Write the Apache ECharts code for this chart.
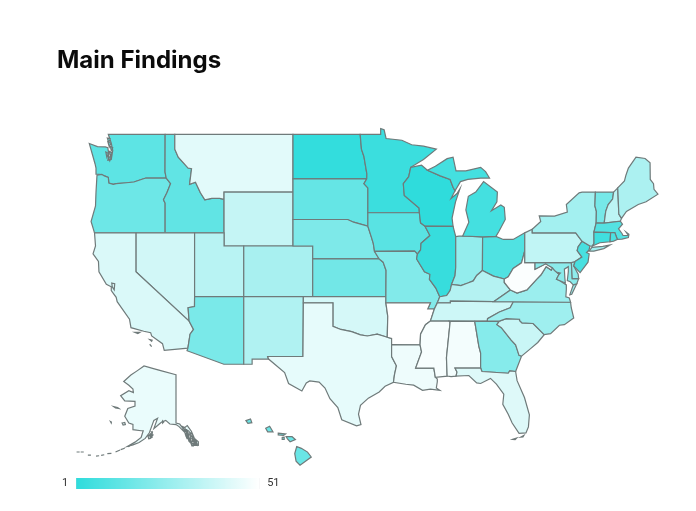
<!DOCTYPE html>
<html>
<head>
<meta charset="utf-8">
<style>
  html, body { margin: 0; background: #fff; }
  #chart { width: 696px; height: 511px; }
</style>
<script src="https://cdn.jsdelivr.net/npm/echarts@6/dist/echarts.min.js"></script>
</head>
<body>
<div id="chart"></div>
<script>
'use strict';
// rank of each state, 1 = darkest
var stateNames = ['Wisconsin','North Dakota','Illinois','Minnesota','Connecticut','Michigan','New Jersey','Rhode Island','Ohio','Massachusetts',
  'Iowa','Washington','Idaho','South Dakota','Hawaii','Oregon','Kansas','Vermont','Arizona','Nebraska',
  'Missouri','Georgia','Maryland','Delaware','Indiana','District of Columbia','Virginia','North Carolina','New York','Colorado',
  'Maine','New Mexico','Kentucky','Utah','New Hampshire','Pennsylvania','Wyoming','South Carolina','Tennessee','Nevada',
  'Oklahoma','California','Florida','Montana','Texas','Alaska','Louisiana','Alabama','Mississippi','West Virginia','Arkansas'];
var stateRanks = [1,2,3,4,5,6,7,8,9,10,
  11,12,13,14,15,16,17,18,19,20,
  21,22,23,24,25,26,27,28,29,30,
  31,32,33,34,35,36,37,38,39,40,
  41,42,43,44,45,46,47,48,49,50,51];
var legendLabels = ['51', '1'];

// rough state outlines, lon lat pairs
var stateOutlines = {
  'Washington': [[-124.73,48.38,-123.9,48.17,-123.1,48.15,-122.85,48.1,-122.75,47.6,-122.85,47.25,-122.5,47.3,-122.35,47.9,-122.5,48.4,-122.8,49,-117.03,49,-117.04,46.42,-116.92,46,-118.98,46,-119.3,45.93,-120.2,45.72,-121.2,45.65,-122,45.6,-122.3,45.55,-122.75,45.65,-122.8,46.05,-123.2,46.15,-123.45,46.25,-124.05,46.27,-124.05,46.7,-124.15,47,-124.4,47.6],
    [-122.9,48.75,-122.6,48.7,-122.75,48.45],[-122.85,48.5,-122.55,48.4,-122.7,48.15],[-122.6,48.2,-122.35,48.1,-122.5,47.9],[-122.7,47.85,-122.45,47.75,-122.55,47.5],[-122.8,47.5,-122.5,47.45,-122.65,47.2],[-123.05,47.8,-122.8,47.7,-122.95,47.45]],
  'Oregon': [[-123.45,46.25,-123.2,46.15,-122.8,46.05,-122.75,45.65,-122.3,45.55,-122,45.6,-121.2,45.65,-120.2,45.72,-119.3,45.93,-118.98,46,-116.92,46,-116.48,45.6,-116.85,44.95,-117.2,44.45,-117.03,44.2,-117.03,42,-124.2,42,-124.55,42.85,-124.1,44,-124.05,45,-123.95,46.2]],
  'Idaho': [[-117.03,49,-116.05,49,-116.05,48,-115.7,47.45,-114.7,46.7,-114.35,46.65,-114.55,45.55,-113.95,45.7,-113.45,44.95,-113,44.45,-112.3,44.55,-111.5,44.55,-111.05,44.48,-111.05,42,-114.04,42,-117.03,42,-117.03,44.2,-117.2,44.45,-116.85,44.95,-116.48,45.6,-116.92,46,-117.04,46.42]],
  'Montana': [[-116.05,49,-104.05,49,-104.05,45,-111.05,45,-111.05,44.48,-111.5,44.55,-112.3,44.55,-113,44.45,-113.45,44.95,-113.95,45.7,-114.55,45.55,-114.35,46.65,-114.7,46.7,-115.7,47.45,-116.05,48]],
  'Wyoming': [[-111.05,45,-104.05,45,-104.05,41,-111.05,41]],
  'Nevada': [[-120,42,-114.04,42,-114.04,37,-114.05,36.2,-114.7,36.1,-114.6,35,-120,39]],
  'California': [[-124.2,42,-120,42,-120,39,-114.6,35,-114.15,34.3,-114.5,33.9,-114.72,32.72,-117.12,32.53,-117.3,33.1,-118.4,33.75,-118.5,34.03,-119.2,34.15,-120.5,34.45,-120.65,35.15,-121.9,36.6,-122,36.95,-122.5,37.5,-122.5,37.8,-123,38,-123.75,39,-123.8,39.8,-124.35,40.4,-124.1,41],
    [-122.45,38.1,-122.15,38.05,-122.2,37.55,-122.4,37.8],[-118.6,33.45,-118.35,33.4,-118.4,33.3],[-120.1,34.05,-119.6,34.05,-119.8,33.95],[-118.6,33.05,-118.4,32.85,-118.5,32.85]],
  'Utah': [[-114.04,42,-111.05,42,-111.05,41,-109.05,41,-109.05,37,-114.04,37]],
  'Colorado': [[-109.05,41,-102.05,41,-102.05,37,-109.05,37]],
  'Arizona': [[-114.04,37,-109.05,37,-109.05,31.33,-111.07,31.33,-114.81,32.5,-114.72,32.72,-114.5,33.9,-114.15,34.3,-114.6,35,-114.7,36.1,-114.05,36.2]],
  'New Mexico': [[-109.05,37,-103,37,-103,36.5,-103.04,32,-106.62,32,-106.53,31.78,-108.2,31.78,-108.2,31.33,-109.05,31.33]],
  'North Dakota': [[-104.05,49,-97.23,49,-97.1,48,-96.85,47.5,-96.55,46.3,-96.56,45.94,-104.05,45.94]],
  'South Dakota': [[-104.05,45.94,-96.56,45.94,-96.85,45.6,-96.45,45.3,-96.45,43.5,-96.45,42.5,-97.9,42.8,-98.5,43,-104.05,43]],
  'Nebraska': [[-104.05,43,-98.5,43,-97.9,42.8,-96.45,42.5,-96.1,41.7,-95.9,41.2,-95.77,40.58,-95.3,40,-102.05,40,-102.05,41,-104.05,41]],
  'Kansas': [[-102.05,40,-95.3,40,-94.9,39.75,-94.6,39.1,-94.62,37,-102.05,37]],
  'Oklahoma': [[-103,37,-94.62,37,-94.62,36.5,-94.43,35.4,-94.48,33.64,-95.5,33.9,-96.5,33.75,-97.2,33.85,-98.1,34.12,-99.2,34.3,-100,34.56,-100,36.5,-103,36.5]],
  'Texas': [[-103,36.5,-100,36.5,-100,34.56,-99.2,34.3,-98.1,34.12,-97.2,33.85,-96.5,33.75,-95.5,33.9,-94.48,33.64,-94.04,33.55,-94.04,33.02,-94.04,32,-93.55,31.2,-93.75,30.4,-93.85,29.75,-94.7,29.4,-95.3,28.9,-96.4,28.35,-97.2,27.7,-97.4,26.9,-97.15,25.96,-97.6,25.85,-99.1,26.4,-99.5,27.5,-100.3,28.3,-100.8,29.25,-101.4,29.77,-102.35,29.88,-102.7,29.7,-103.15,28.98,-104.5,29.65,-104.9,30.6,-106.53,31.78,-106.62,32,-103.04,32]],
  'Minnesota': [[-97.23,49,-95.15,49,-95.15,49.38,-94.8,49.3,-94.6,48.72,-93,48.6,-92,48.3,-90.8,48.2,-89.5,48,-90.8,47.3,-92.1,46.75,-92.3,46.1,-92.85,45.6,-92.75,44.75,-91.25,43.85,-91.22,43.5,-96.45,43.5,-96.45,45.3,-96.85,45.6,-96.56,45.94,-96.55,46.3,-96.85,47.5,-97.1,48]],
  'Iowa': [[-96.45,43.5,-91.22,43.5,-91.1,42.75,-90.65,42.5,-90.15,41.8,-91.05,41.2,-91.1,40.7,-91.42,40.38,-91.7,40.6,-95.77,40.58,-95.9,41.2,-96.1,41.7,-96.45,42.5]],
  'Missouri': [[-95.77,40.58,-91.7,40.6,-91.42,40.38,-91.5,40,-90.7,39,-90.15,38.8,-90.2,38.4,-89.55,37.7,-89.15,37,-89.4,36.5,-89.7,36,-90.37,36,-90.1,36.5,-94.62,36.5,-94.62,37,-94.6,39.1,-94.9,39.75,-95.3,40]],
  'Arkansas': [[-94.62,36.5,-90.1,36.5,-90.37,36,-89.7,36,-90.1,35,-90.6,34.7,-91.1,33.9,-91.15,33,-94.04,33.02,-94.04,33.55,-94.48,33.64,-94.43,35.4]],
  'Louisiana': [[-94.04,33.02,-91.15,33,-91,32.4,-91.6,31,-89.75,31,-89.6,30.2,-89.4,30.05,-89.4,29.8,-89.5,29.25,-89.15,29.05,-90.1,29.15,-90.9,29.05,-91.8,29.5,-92.6,29.58,-93.85,29.75,-93.75,30.4,-93.55,31.2,-94.04,32]],
  'Wisconsin': [[-92.1,46.75,-91,46.9,-90.4,46.55,-89.1,46.15,-88.1,45.9,-87.8,45.35,-87.6,45.1,-88,44.55,-87.4,44.9,-87.1,45.25,-87.55,44.3,-87.9,43.1,-87.8,42.49,-90.65,42.5,-91.1,42.75,-91.22,43.5,-91.25,43.85,-92.75,44.75,-92.85,45.6,-92.3,46.1]],
  'Illinois': [[-90.65,42.5,-87.8,42.49,-87.53,41.72,-87.53,39.35,-87.6,38.7,-87.95,38,-88.1,37.5,-88.45,37.1,-89.15,37,-89.55,37.7,-90.2,38.4,-90.15,38.8,-90.7,39,-91.5,40,-91.42,40.38,-91.1,40.7,-91.05,41.2,-90.15,41.8]],
  'Indiana': [[-87.53,41.72,-87.2,41.75,-86.82,41.76,-84.8,41.7,-84.82,39.1,-85.4,38.7,-85.75,38.27,-86.3,38.1,-87,37.9,-87.95,38,-87.6,38.7,-87.53,39.35]],
  'Ohio': [[-84.8,41.7,-83.45,41.73,-82.7,41.5,-81.7,41.5,-80.52,42,-80.52,40.64,-80.85,39.7,-81.7,39.25,-82.2,38.6,-82.6,38.42,-83.7,38.65,-84.82,39.1]],
  'Michigan': [[-86.82,41.76,-84.8,41.7,-83.45,41.73,-83.15,42.1,-82.5,43,-82.6,43.9,-82.95,44.07,-83.9,43.65,-83.35,44.3,-83.3,45,-84.7,45.75,-85.5,45,-86.25,44.7,-86.5,43.7,-86.2,42.8],
    [-90.4,46.55,-89.1,46.15,-88.1,45.9,-87.8,45.35,-87.6,45.1,-87.05,45.75,-86.3,45.9,-85,46,-84.1,46,-84.5,46.45,-85,46.75,-86.5,46.5,-87.5,46.5,-87.8,47.45,-88.4,47.35,-89.6,46.83]],
  'Kentucky': [[-89.15,37,-88.45,37.1,-88.1,37.5,-87.95,38,-87,37.9,-86.3,38.1,-85.75,38.27,-85.4,38.7,-84.82,39.1,-83.7,38.65,-82.6,38.42,-82.6,38.15,-81.97,37.54,-83.68,36.6,-88.07,36.65,-88.07,36.5,-89.4,36.5]],
  'Tennessee': [[-89.7,36,-90.1,35,-88.2,35,-84.32,35,-84.3,35.2,-83.1,35.75,-82,36.1,-81.68,36.59,-83.68,36.6,-88.07,36.65,-88.07,36.5,-89.4,36.5]],
  'Mississippi': [[-90.1,35,-88.2,35,-88.1,34.9,-88.47,31.9,-88.4,30.3,-89.6,30.2,-89.75,31,-91.6,31,-91,32.4,-91.15,33,-91.1,33.9,-90.6,34.7]],
  'Alabama': [[-88.2,35,-85.6,34.98,-85.18,32.87,-85,32.3,-85,31,-87.6,31,-87.4,30.65,-87.5,30.3,-88,30.25,-88.4,30.3,-88.47,31.9,-88.1,34.9]],
  'Georgia': [[-85.6,34.98,-83.1,35,-83.35,34.7,-82.9,34.45,-81.9,33.4,-81.45,33,-81.1,32.1,-80.85,32.03,-81.45,30.7,-82.05,30.75,-82.2,30.55,-84.87,30.7,-85,31,-85,32.3,-85.18,32.87]],
  'Florida': [[-87.5,30.3,-87.4,30.65,-87.6,31,-85,31,-84.87,30.7,-82.2,30.55,-82.05,30.75,-81.45,30.7,-81.3,29.9,-80.55,28.4,-80.05,26.85,-80.15,25.75,-80.4,25.2,-81.1,25.15,-81.8,26.1,-82.2,26.9,-82.75,27.8,-82.65,28.7,-83.4,29.6,-84,30.1,-85,29.65,-85.4,29.7,-86.2,30.35],
    [-81.75,24.6,-81.35,24.72,-81.5,24.58],[-80.95,24.8,-80.6,24.98,-80.7,24.82]],
  'South Carolina': [[-83.1,35,-82.4,35.2,-81.05,35.15,-81.05,35.05,-80.8,34.85,-79.67,34.8,-78.55,33.86,-79.2,33.2,-79.9,32.7,-80.85,32.03,-81.1,32.1,-81.45,33,-81.9,33.4,-82.9,34.45,-83.35,34.7]],
  'North Carolina': [[-84.32,35,-83.1,35,-82.4,35.2,-81.05,35.15,-81.05,35.05,-80.8,34.85,-79.67,34.8,-78.55,33.86,-77.9,33.95,-77,34.65,-76.5,34.7,-75.55,35.25,-75.8,36.1,-75.87,36.55,-81.68,36.59,-82,36.1,-83.1,35.75,-84.3,35.2]],
  'Virginia': [[-83.68,36.6,-81.68,36.59,-75.87,36.55,-76,36.9,-76.35,37,-76.3,37.6,-76.3,37.95,-77,38.3,-77.3,38.4,-77.04,38.8,-77.5,39.1,-77.72,39.32,-77.83,39.13,-78.35,39.4,-78.87,38.76,-79.3,38.42,-80.3,37.55,-81.3,37.3,-81.97,37.54],
    [-75.95,37.15,-75.6,37.95,-75.25,38.03,-75.75,37.2]],
  'West Virginia': [[-81.97,37.54,-82.6,38.15,-82.6,38.42,-82.2,38.6,-81.7,39.25,-80.85,39.7,-80.52,40.64,-80.52,39.72,-79.48,39.72,-79.48,39.2,-78.4,39.62,-77.72,39.32,-77.83,39.13,-78.35,39.4,-78.87,38.76,-79.3,38.42,-80.3,37.55,-81.3,37.3]],
  'Maryland': [[-79.48,39.72,-75.79,39.72,-75.7,38.46,-75.05,38.45,-75.25,38.03,-75.6,37.95,-75.9,38.2,-76.2,38.3,-76.1,39,-76.1,39.4,-76.5,39.2,-76.45,38.5,-76.4,38.1,-77,38.3,-77.3,38.4,-77.04,38.8,-77.5,39.1,-77.72,39.32,-78.4,39.62,-79.48,39.2]],
  'Delaware': [[-75.79,39.72,-75.42,39.8,-75.55,39.45,-75.1,38.8,-75.05,38.45,-75.7,38.46]],
  'District of Columbia': [[-77.12,38.93,-77.04,39,-76.91,38.89,-77.04,38.8]],
  'Pennsylvania': [[-80.52,42,-79.76,42.27,-79.76,42,-75.35,42,-74.7,41.36,-75.1,40.95,-75.2,40.65,-74.72,40.15,-75.42,39.8,-75.79,39.72,-79.48,39.72,-80.52,39.72,-80.52,40.64]],
  'New Jersey': [[-74.7,41.36,-73.9,41,-74,40.7,-74.25,40.5,-73.98,40.4,-74.1,39.75,-74.9,38.93,-75.55,39.45,-75.42,39.8,-74.72,40.15,-75.2,40.65,-75.1,40.95]],
  'New York': [[-79.76,42.27,-78.9,42.85,-79.05,43.27,-77.5,43.25,-76.2,43.55,-76.3,44.1,-75,44.95,-74.7,45,-73.35,45,-73.4,44,-73.25,43.6,-73.27,42.75,-73.5,42.05,-73.49,41.2,-73.65,41,-73.9,41,-74.7,41.36,-75.35,42,-79.76,42],
    [-74,40.6,-73.7,40.9,-72.6,40.97,-71.87,41.07,-72.5,40.8,-73.5,40.6]],
  'Vermont': [[-73.35,45,-71.5,45,-71.6,44.5,-72.05,44.1,-72.3,43.6,-72.46,42.73,-73.27,42.75,-73.25,43.6,-73.4,44]],
  'New Hampshire': [[-71.5,45,-71.08,45.3,-70.97,43.4,-70.7,43.08,-70.82,42.87,-72.46,42.73,-72.3,43.6,-72.05,44.1,-71.6,44.5]],
  'Maine': [[-71.08,45.3,-70.4,45.8,-70.25,46.2,-70,46.7,-69.23,47.46,-68.3,47.36,-67.8,47.07,-67.78,45.9,-67.45,45.6,-67.4,45.2,-67,44.85,-68.2,44.3,-69,44.1,-70.2,43.6,-70.7,43.08,-70.97,43.4]],
  'Massachusetts': [[-73.5,42.05,-73.27,42.75,-72.46,42.73,-70.82,42.87,-70.6,42.65,-71,42.3,-70.65,41.95,-70.55,41.8,-70,41.8,-70.25,42.07,-69.95,41.9,-70,41.65,-70.65,41.53,-71.12,41.5,-71.38,42.02,-71.8,42.02]],
  'Connecticut': [[-73.5,42.05,-71.8,42.02,-71.86,41.32,-72.9,41.25,-73.65,41,-73.49,41.2]],
  'Rhode Island': [[-71.8,42.02,-71.38,42.02,-71.12,41.5,-71.5,41.37,-71.86,41.32]],
  'Hawaii': [[-159.75,22.1,-159.4,22.22,-159.3,21.95,-159.6,21.9],[-158.25,21.55,-157.95,21.7,-157.7,21.3,-158.1,21.3],[-157.3,21.2,-156.75,21.15,-156.9,21.05,-157.3,21.08],[-157,20.9,-156.85,20.92,-156.85,20.75,-157,20.75],[-156.7,20.95,-156.25,20.95,-156,20.75,-156.4,20.58,-156.6,20.8],
    [-155.9,20.25,-155.55,20.12,-155.08,19.85,-154.8,19.5,-155.65,18.92,-155.95,19.2,-156.05,19.75]],
  'Alaska': [[-141,69.65,-148,70.4,-152,70.85,-156.6,71.35,-160,70.4,-163,69.6,-166.5,68.35,-164,67.6,-162,66.9,-161.8,66.2,-164,66.55,-168,65.6,-166,64.6,-161,64.5,-161,63.6,-164.5,63.1,-166,61.6,-164,60.3,-162,60,-162,59,-158,58.8,-157,58.8,-158,57.3,-161,55.9,-164.5,54.7,-162,55.1,-159,55.8,-156,57,-154,58.4,-153,59.5,-151.8,60.8,-150,61.2,-151.8,59.2,-150,59.8,-148,60.5,-146,60.8,-144,60.1,-141,60,-139.5,59.6,-137,58.6,-135.5,57.6,-134,56,-132,55.2,-130.1,55,-130.1,56,-132,57,-133.5,58.7,-135.5,59.8,-137.5,59.2,-139.2,60.1,-141,60.3],
    [-171.5,63.5,-169.5,63.3,-168.8,63.1,-170.5,63.2],[-167.3,60.3,-166,60.4,-165.7,60,-166.8,59.9],[-154.6,57.6,-153.2,58.2,-152.2,58,-153.5,57,-154.3,56.9],[-154.2,57.9,-153.4,58.2,-153.2,57.4],[-153.6,57.4,-152.8,58,-152.7,57.3],[-153,58.6,-152.5,58.6,-152.6,58.3],
    [-173,60.6,-172.5,60.5,-172.6,60.3],[-147.5,60.7,-147,60.5,-147.5,60.3],
    [-137.8,59.6,-136.6,59.4,-136.4,58.7,-137.5,58.9],[-136.9,59,-135.9,59,-135.8,58.3,-136.7,58.4],[-136.5,58.2,-135.5,58.2,-135,57.6,-136.1,57.6],[-136,57.5,-135.2,57.6,-135,56.9,-135.6,56.9],[-134.9,58,-134,58,-134,57,-134.7,57],[-135,56.9,-134.3,56.9,-134.2,55.9,-134.7,56.2],[-134,56.9,-133,56.9,-133,56.2,-133.8,56.2],[-134,56.1,-132.5,56.2,-131.8,55,-133.3,54.9],[-133,56.8,-132.2,56.6,-132.1,56,-132.8,56.1],[-132.3,56.4,-131.7,56.3,-131.3,55.3,-132,55.3],[-131.8,56.6,-131.2,56.5,-131,55.9,-131.6,56],[-135.4,58.9,-134.6,58.7,-134.7,58.1,-135.4,58.2],[-134,58.4,-133.2,58.2,-133.4,57.5,-134,57.6],[-133.2,57.7,-132.6,57.5,-132.6,56.9,-133.2,57],[-133.2,55.4,-132.4,55.4,-132.5,54.8,-133.2,54.8],[-131.6,55.6,-130.8,55.5,-130.7,54.9,-131.4,55],
    [-164.5,54.6,-163.5,54.7,-163.4,54.5],[-168,53.7,-166,54.1,-165.8,53.9],[-170.5,53,-168.3,53.6,-168.2,53.4],[-174.5,52.5,-172.5,52.6,-172.5,52.4],[-177.5,52,-176,52.2,-176,52],[-180,51.8,-178.5,51.9,-178.5,51.7],[-184,52.1,-182.5,52.1,-182.5,51.9],[-187.5,53,-186,53,-186,52.85],[-189.5,53,-188,53,-188,52.85]]
};

function rad(d) { return d * Math.PI / 180; }

// mercator for the lower 48, plain insets for Alaska and Hawaii
var pxPerDeg = 9.85;

function merc(lat) {
  return Math.log(Math.tan(Math.PI / 4 + rad(lat) / 2)) * 180 / Math.PI;
}

function project(p) {
  var lon = p[0], lat = p[1];
  if (lat > 50) {
    var y = lat >= 58 ? 375 + (69.6 - lat) * 5.16 : 435 + (58 - lat) * 3.4;
    return [176 + (lon + 141) * 2.05, y];
  }
  if (lon < -150) {
    return [302 + (lon + 155.5) * 13.2, 457 - (lat - 19.5) * 14];
  }
  return [293 + (lon + 104.05) * pxPerDeg, 246 - (merc(lat) - merc(41)) * pxPerDeg];
}

function unproject(p) {
  var m = (246 - p[1]) / pxPerDeg + merc(41);
  var lat = (2 * Math.atan(Math.exp(rad(m))) - Math.PI / 2) * 180 / Math.PI;
  return [(p[0] - 293) / pxPerDeg - 104.05, lat];
}

function toRing(flat) {
  var ring = [];
  for (var i = 0; i < flat.length; i += 2) ring.push([flat[i], flat[i + 1]]);
  ring.push([flat[0], flat[1]]);
  return ring;
}

var box = { minX: 1e9, minY: 1e9, maxX: -1e9, maxY: -1e9 };
var features = Object.keys(stateOutlines).map(function (name) {
  var rings = stateOutlines[name].map(toRing);
  rings.forEach(function (ring) {
    ring.forEach(function (pt) {
      var xy = project(pt);
      box.minX = Math.min(box.minX, xy[0]); box.maxX = Math.max(box.maxX, xy[0]);
      box.minY = Math.min(box.minY, xy[1]); box.maxY = Math.max(box.maxY, xy[1]);
    });
  });
  return {
    type: 'Feature',
    properties: { name: name },
    geometry: { type: 'MultiPolygon', coordinates: rings.map(function (r) { return [r]; }) }
  };
});

echarts.registerMap('usa', { type: 'FeatureCollection', features: features });

var chart = echarts.init(document.getElementById('chart'));
chart.setOption({
  animation: false,
  backgroundColor: '#fff',
  title: {
    text: 'Main Findings',
    left: 57,
    top: 49,
    padding: 0,
    textStyle: { fontFamily: 'Inter', fontSize: 24, fontWeight: 700, color: '#0b0b0b' }
  },
  visualMap: {
    type: 'continuous',
    orient: 'horizontal',
    min: 1,
    max: 51,
    left: 62,
    top: 478,
    itemWidth: 11,
    itemHeight: 183,
    calculable: false,
    realtime: false,
    text: legendLabels,
    textGap: 8,
    padding: 0,
    textStyle: { fontFamily: 'Roboto', fontSize: 11, color: '#333' },
    inRange: { color: ['#2fdcdc', '#ffffff'] }
  },
  series: [{
    type: 'map',
    map: 'usa',
    projection: { project: project, unproject: unproject },
    left: box.minX,
    top: box.minY,
    width: box.maxX - box.minX,
    height: box.maxY - box.minY,
    roam: false,
    label: { show: false },
    itemStyle: { borderColor: '#6f7a7a', borderWidth: 1.2 },
    emphasis: { disabled: true },
    select: { disabled: true },
    selectedMode: false,
    data: stateNames.map(function (name, i) { return { name: name, value: stateRanks[i] }; })
  }]
});

// the legend bar gets rounded corners from a clip path, the original is square
chart.getZr().storage.getRoots().forEach(function (root) {
  root.traverse && root.traverse(function (el) {
    var clip = el.getClipPath && el.getClipPath();
    if (clip && clip.shape && clip.shape.r) el.removeClipPath();
  });
});
chart.getZr().refresh();
</script>
</body>
</html>
